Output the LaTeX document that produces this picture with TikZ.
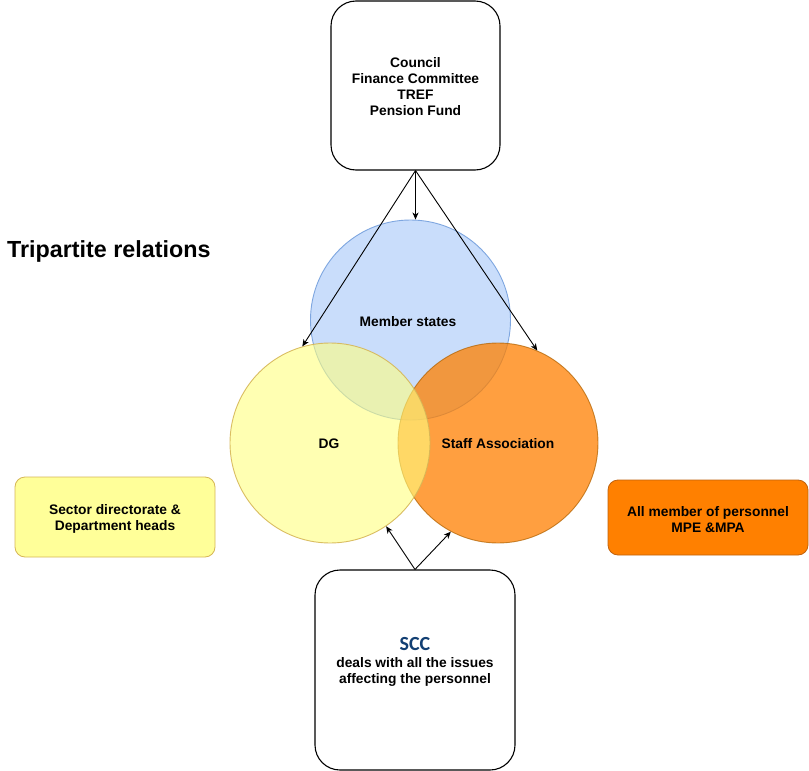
\documentclass[tikz,border=0pt]{standalone}
\usepackage{fontspec}
\setmainfont{Liberation Sans}
\newfontfamily\sccfont{Carlito}
\usetikzlibrary{arrows.meta}
\definecolor{msfill}{HTML}{C9DDFB}
\definecolor{msdraw}{HTML}{7EA6E0}
\definecolor{dgfill}{HTML}{FFFF80}
\definecolor{dgdraw}{HTML}{D6B656}
\definecolor{safill}{HTML}{FF8000}
\definecolor{sadraw}{HTML}{B46504}
\definecolor{sdfill}{HTML}{FFFF99}
\definecolor{apfill}{HTML}{FF8000}
\definecolor{apdraw}{HTML}{C0620E}
\definecolor{sccblue}{HTML}{123F73}
\tikzset{
  txt/.style={font=\fontsize{13.8}{16}\selectfont\bfseries, align=center},
  bigbox/.style={draw=black, line width=1.1pt, rounded corners=25pt, fill=white, inner sep=0pt},
  smallbox/.style={rounded corners=10pt, line width=0.8pt, inner sep=0pt, txt},
  venn/.style={circle, minimum size=200pt, inner sep=0pt, line width=0.9pt},
  conn/.style={draw=black, line width=0.9pt, -{Stealth[length=7pt,width=6pt,inset=2pt]}}
}
\begin{document}
\begin{tikzpicture}[x=1pt,y=-1pt]
\useasboundingbox[fill=white] (0,0) rectangle (809,771);

% title
\node[font=\fontsize{23.3}{26}\selectfont\bfseries, anchor=west, inner sep=0pt] (title) at (7,251) {Tripartite relations};

% top box
\node[bigbox, minimum width=169pt, minimum height=169pt] (top) at (415.5,85.5) {};
\node[txt] (toptext) at (415.5,87) {Council\\Finance Committee\\TREF\\Pension Fund};

% circles
\node[venn, fill=msfill, draw=msdraw] (ms) at (410.5,320) {};
\node[venn, fill=safill, fill opacity=0.75, draw=sadraw, draw opacity=0.75] (sa) at (498,443) {};
\node[venn, fill=dgfill, fill opacity=0.6, draw=dgdraw, draw opacity=0.9] (dg) at (330,443) {};

\node[txt] (mstext) at (408,322) {Member states};
\node[txt] (dgtext) at (329,444) {DG};
\node[txt] (satext) at (498,444) {Staff Association};

% side boxes
\node[smallbox, fill=sdfill, draw=dgdraw, minimum width=200pt, minimum height=80pt] (sd) at (115,517) {};
\node[txt] (sdtext) at (115,519) {Sector directorate \&\\Department heads};
\node[smallbox, fill=apfill, draw=apdraw, minimum width=200pt, minimum height=75pt] (ap) at (708,517.5) {};
\node[txt] (aptext) at (708,519.5) {All member of personnel\\MPE \&MPA};

% bottom box
\node[bigbox, minimum width=200pt, minimum height=200pt] (scc) at (415,670) {};
\node[txt] (scctext) at (415,662)
  {{\sccfont\fontsize{20}{20}\selectfont\bfseries\color{sccblue}SCC}\\[1pt]deals with all the issues\\affecting the personnel};

% connectors
\draw[conn] (top.south) -- (top.south |- ms.north);
\draw[conn] (top.south) -- (dg.106.5);
\draw[conn] (top.south) -- (sa.67.5);
\draw[conn] (scc.north) -- (dg.-56);
\draw[conn] (scc.north) -- (sa.-118);
\end{tikzpicture}
\end{document}
